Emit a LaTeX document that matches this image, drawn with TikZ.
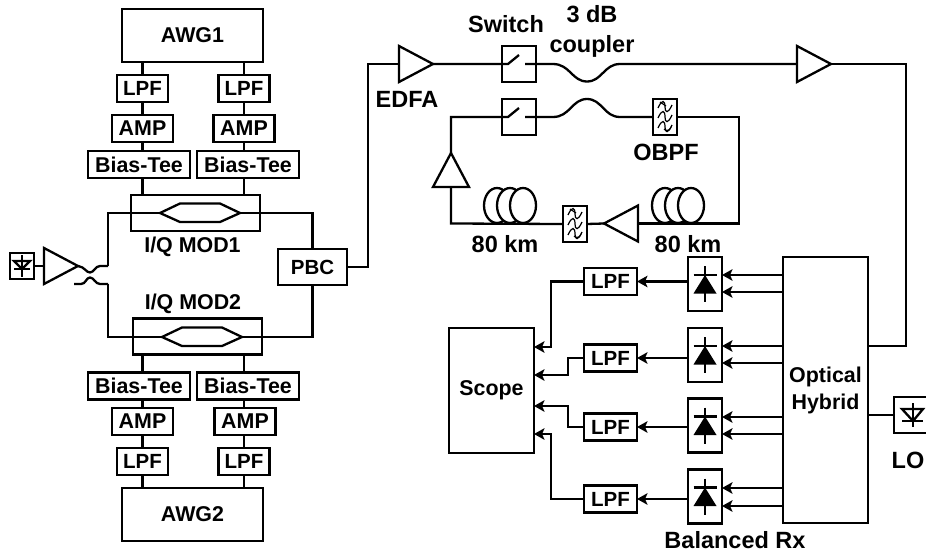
\documentclass[tikz,border=0pt]{standalone}
\usepackage{fontspec}
\setmainfont{Liberation Sans}
\usetikzlibrary{arrows.meta,shapes.geometric}
\tikzset{
  wire/.style={line width=2.3pt,line join=miter},
  arrowwire/.style={wire,-{Stealth[length=10.5pt,width=11.5pt,inset=2.5pt]}},
  blockbox/.style={draw,line width=2.3pt,fill=white,inner sep=0pt,outer sep=0pt,align=center},
  lpfbox/.style={blockbox,minimum width=51pt,minimum height=27pt,font=\fontsize{20.5}{24}\selectfont\bfseries},
  ampbox/.style={blockbox,minimum width=61pt,minimum height=27pt},
  teebox/.style={blockbox,minimum width=102pt,minimum height=27pt},
  awgbox/.style={blockbox,minimum width=141pt,minimum height=53pt},
  modbox/.style={blockbox,fill=none,minimum width=129pt,minimum height=36pt},
  switchbox/.style={blockbox,fill=none,minimum width=34pt,minimum height=36pt},
  filterbox/.style={blockbox,minimum width=24pt,minimum height=36pt},
  rxbox/.style={blockbox,minimum width=34pt,minimum height=54pt},
  edfa/.style={draw,line width=2.3pt,isosceles triangle,isosceles triangle stretches,
    inner sep=0pt,outer sep=0pt,minimum width=36pt,minimum height=34pt},
  txt/.style={inner sep=0pt,align=center},
  bigtxt/.style={txt,font=\fontsize{23.5}{30}\selectfont\bfseries}
}
% one filter symbol, centred on a node
\newcommand{\wavesym}[1]{
  \begin{scope}[shift={(#1)},line width=1.2pt]
    \draw (-7,-9) .. controls (-3,-18) and (0,-17) .. (0,-10) .. controls (0,-4) and (3,-3) .. (7,-12);
    \draw (-7,1) .. controls (-3,-8) and (0,-7) .. (0,0) .. controls (0,6) and (3,7) .. (7,-2);
    \draw (-7,11) .. controls (-3,2) and (0,3) .. (0,10) .. controls (0,16) and (3,17) .. (7,8);
    \draw (-5,-15) -- (1,-11);
    \draw (-1,12) .. controls (2,15) and (5,13) .. (6,10);
  \end{scope}
}
% balanced detector inside a receiver box
\newcommand{\rxdiode}[1]{
  \begin{scope}[shift={(#1)}]
    \draw[wire] (0,-18) -- (0,18);
    \draw[wire] (-11.5,-9) -- (11.5,-9);
    \fill (0,-9) -- (11.5,9.5) -- (-11.5,9.5) -- cycle;
  \end{scope}
}
\begin{document}
\begin{tikzpicture}[x=1pt,y=-1pt,font=\fontsize{21.4}{24}\selectfont\bfseries]
  \useasboundingbox (0,0) rectangle (926,554);

  % transmitter 1
  \node[awgbox] (awg1) at (192.5,35.5) {AWG1};
  \node[lpfbox] (lpf1) at (142.5,88.5) {LPF};
  \node[lpfbox] (lpf2) at (244,88.5) {LPF};
  \node[ampbox] (amp1) at (142.5,128.5) {AMP};
  \node[ampbox] (amp2) at (244,128.5) {AMP};
  \node[teebox] (tee1) at (139,164.5) {Bias-Tee};
  \node[teebox] (tee2) at (248,164.5) {Bias-Tee};
  \node[modbox] (mod1) at (195.5,213) {};
  \node[txt] (mod1txt) at (192.5,247) {I/Q MOD1};
  \draw[wire] (lpf1 |- awg1.south) -- (lpf1.north);
  \draw[wire] (lpf2 |- awg1.south) -- (lpf2.north);
  \draw[wire] (lpf1.south) -- (amp1.north);
  \draw[wire] (lpf2.south) -- (amp2.north);
  \draw[wire] (amp1.south) -- (amp1 |- tee1.north);
  \draw[wire] (amp2.south) -- (amp2 |- tee2.north);
  \draw[wire] (amp1 |- tee1.south) -- (amp1 |- mod1.north);
  \draw[wire] (amp2 |- tee2.south) -- (amp2 |- mod1.north);
  \coordinate (mz1in) at (160,213);
  \coordinate (mz1out) at (240,213);
  \draw[wire] (mz1in) -- (180,203.5) -- (220,203.5) -- (mz1out) -- (220,222) -- (180,222) -- cycle;

  % transmitter 2
  \node[awgbox] (awg2) at (192.5,514.5) {AWG2};
  \node[lpfbox] (lpf3) at (142.5,461.5) {LPF};
  \node[lpfbox] (lpf4) at (244,461.5) {LPF};
  \node[ampbox] (amp3) at (142.5,421.5) {AMP};
  \node[ampbox] (amp4) at (245,421.5) {AMP};
  \node[teebox] (tee3) at (139,386) {Bias-Tee};
  \node[teebox] (tee4) at (248,386) {Bias-Tee};
  \node[modbox] (mod2) at (197.5,336.5) {};
  \node[txt] (mod2txt) at (193,304) {I/Q MOD2};
  \draw[wire] (lpf3 |- awg2.north) -- (lpf3.south);
  \draw[wire] (lpf4 |- awg2.north) -- (lpf4.south);
  \draw[wire] (lpf3.north) -- (amp3.south);
  \draw[wire] (lpf4.north) -- (lpf4 |- amp4.south);
  \draw[wire] (amp3.north) -- (amp3 |- tee3.south);
  \draw[wire] (lpf4 |- amp4.north) -- (lpf4 |- tee4.south);
  \draw[wire] (amp3 |- tee3.north) -- (amp3 |- mod2.south);
  \draw[wire] (lpf4 |- tee4.north) -- (lpf4 |- mod2.south);
  \coordinate (mz2in) at (162,337);
  \coordinate (mz2out) at (242,337);
  \draw[wire] (mz2in) -- (182,327.5) -- (222,327.5) -- (mz2out) -- (222,346) -- (182,346) -- cycle;

  % laser and splitter
  \node[blockbox,minimum width=24pt,minimum height=26pt] (laser) at (22,266) {};
  \draw[wire] (22,255) -- (22,277);
  \draw[wire] (14,261) -- (30,261) -- (22,269) -- cycle;
  \draw[wire] (14,269) -- (30,269);
  \node[edfa,anchor=apex] (amptx) at (78,266) {};
  \draw[wire] (laser.east) -- (amptx.lower side);
  \coordinate (splitup) at (108,266);
  \coordinate (splitdn) at (108,284);
  \coordinate (splitend) at (74,284);
  \draw[wire] (amptx.apex) .. controls (85,267) and (86,272.5) .. (90,272.5) .. controls (94,272.5) and (95,266) .. (100,266) -- (splitup);
  \draw[wire] (splitend) -- (81,284) .. controls (86,284) and (86,277.5) .. (90,277.5) .. controls (94,277.5) and (95,284) .. (100,284) -- (splitdn);
  \draw[wire] (splitup) -- (108,213) -- (mz1in);
  \draw[wire] (splitdn) -- (108,337) -- (mz2in);

  % combiner
  \node[blockbox,minimum width=69pt,minimum height=36pt,font=\fontsize{20.5}{24}\selectfont\bfseries] (pbc) at (312.5,267) {PBC};
  \draw[wire] (mz1out) -- (pbc |- mz1out) -- (pbc.north);
  \draw[wire] (mz2out) -- (pbc |- mz2out) -- (pbc.south);

  % top line
  \node[edfa,anchor=apex] (edfa1) at (433,64) {};
  \node[bigtxt] (edfa1txt) at (407,99) {EDFA};
  \node[switchbox] (sw1) at (519,64) {};
  \node[bigtxt] (sw1txt) at (506,24) {Switch};
  \node[bigtxt] (cpltxt) at (592,31) {3 dB\\coupler};
  \node[edfa,anchor=apex] (edfa2) at (831,64) {};
  \coordinate (sw1in) at (508,64);
  \coordinate (sw1tip) at (519,55);
  \coordinate (sw1out) at (525,64);
  \coordinate (cpl1in) at (553,64);
  \coordinate (cpl1out) at (620,64);
  \draw[wire] (pbc.east) -- (368,267) -- (368,64) -- (edfa1.lower side);
  \draw[wire] (edfa1.apex) -- (sw1in) -- (sw1tip);
  \draw[wire] (sw1out) -- (cpl1in) .. controls (570,64) and (572,81.5) .. (587,81.5) .. controls (602,81.5) and (604,64) .. (cpl1out) -- (edfa2.lower side);

  % recirculating loop
  \node[switchbox] (sw2) at (519,117) {};
  \node[filterbox] (obpf1) at (665,117) {};
  \node[bigtxt] (obpf1txt) at (666,152) {OBPF};
  \node[filterbox] (obpf2) at (575,224) {};
  \wavesym{obpf1}
  \wavesym{obpf2}
  \coordinate (sw2in) at (508,117);
  \coordinate (sw2tip) at (519,108);
  \coordinate (sw2out) at (525,117);
  \coordinate (cpl2in) at (553,117);
  \coordinate (cpl2out) at (620,117);
  \coordinate (loopne) at (739,117);
  \coordinate (loopse) at (739,223.5);
  \coordinate (loopsw) at (451,223.5);
  \coordinate (loopnw) at (451,117);
  \draw[wire] (sw2out) -- (cpl2in) .. controls (570,117) and (572,99) .. (587,99) .. controls (602,99) and (604,117) .. (cpl2out) -- (obpf1.west);
  \draw[wire] (obpf1.east) -- (loopne) -- (loopse) -- (638,223.5);
  \node[edfa,shape border rotate=180,anchor=apex] (edfa3) at (604,223.5) {};
  \node[edfa,shape border rotate=90,anchor=apex] (edfa4) at (451,153) {};
  \draw[wire] (edfa3.apex) -- (obpf2.east);
  \draw[wire] (obpf2.west) -- (loopsw) -- (edfa4.lower side);
  \draw[wire] (edfa4.apex) -- (loopnw) -- (sw2in) -- (sw2tip);

  % fibre spools
  \draw[wire,fill=white] (665,205.5) ellipse (13 and 17.5);
  \draw[wire,fill=white] (678,205.5) ellipse (13 and 17.5);
  \draw[wire,fill=white] (691,205.5) ellipse (13 and 17.5);
  \draw[wire,fill=white] (497,205.5) ellipse (13 and 17.5);
  \draw[wire,fill=white] (510,205.5) ellipse (13 and 17.5);
  \draw[wire,fill=white] (523,205.5) ellipse (13 and 17.5);
  \node[bigtxt] (span1txt) at (505,244) {80 km};
  \node[bigtxt] (span2txt) at (688,244) {80 km};

  % coherent receiver
  \node[blockbox,minimum width=85pt,minimum height=266pt] (hybrid) at (825.5,390) {Optical\\[3pt]Hybrid};
  \node[blockbox,minimum width=36pt,minimum height=36pt] (lo) at (912,415) {};
  \node[bigtxt] (lotxt) at (908,460) {LO};
  \draw[wire] (913,403) -- (913,427);
  \draw[wire] (902,409) -- (923,409) -- (913,421) -- cycle;
  \draw[wire] (902,421) -- (923,421);
  \draw[wire] (hybrid.east |- lo.west) -- (lo.west);
  \draw[wire] (edfa2.apex) -- (906,64) -- (906,346) -- (hybrid.east |- 0,346);

  \node[rxbox] (rx1) at (705,284) {};
  \node[rxbox] (rx2) at (705,355) {};
  \node[rxbox] (rx3) at (705,425.5) {};
  \node[rxbox] (rx4) at (705,496.5) {};
  \rxdiode{rx1}
  \rxdiode{rx2}
  \rxdiode{rx3}
  \rxdiode{rx4}
  \node[bigtxt] (rxtxt) at (735,540) {Balanced Rx};
  \draw[arrowwire] (hybrid.west |- 0,275) -- (rx1.east |- 0,275);
  \draw[arrowwire] (hybrid.west |- 0,292) -- (rx1.east |- 0,292);
  \draw[arrowwire] (hybrid.west |- 0,346) -- (rx2.east |- 0,346);
  \draw[arrowwire] (hybrid.west |- 0,363) -- (rx2.east |- 0,363);
  \draw[arrowwire] (hybrid.west |- 0,417) -- (rx3.east |- 0,417);
  \draw[arrowwire] (hybrid.west |- 0,434) -- (rx3.east |- 0,434);
  \draw[arrowwire] (hybrid.west |- 0,488) -- (rx4.east |- 0,488);
  \draw[arrowwire] (hybrid.west |- 0,506) -- (rx4.east |- 0,506);

  \node[lpfbox,minimum width=53pt] (lpf5) at (610.5,281.5) {LPF};
  \node[lpfbox,minimum width=53pt] (lpf6) at (610.5,358) {LPF};
  \node[lpfbox,minimum width=53pt] (lpf7) at (610.5,427) {LPF};
  \node[lpfbox,minimum width=53pt] (lpf8) at (610.5,499) {LPF};
  \draw[arrowwire] (rx1.west |- lpf5) -- (lpf5.east);
  \draw[arrowwire] (rx2.west |- lpf6) -- (lpf6.east);
  \draw[arrowwire] (rx3.west |- lpf7) -- (lpf7.east);
  \draw[arrowwire] (rx4.west |- lpf8) -- (lpf8.east);

  \node[blockbox,minimum width=85pt,minimum height=125pt] (scope) at (491.5,390.5) {Scope};
  \draw[arrowwire] (lpf5.west) -- (551,281.5) -- (551,347) -- (scope.east |- 0,347);
  \draw[arrowwire] (lpf6.west) -- (568,358) -- (568,375) -- (scope.east |- 0,375);
  \draw[arrowwire] (lpf7.west) -- (568,427) -- (568,406) -- (scope.east |- 0,406);
  \draw[arrowwire] (lpf8.west) -- (551,499) -- (551,434) -- (scope.east |- 0,434);
\end{tikzpicture}
\end{document}
